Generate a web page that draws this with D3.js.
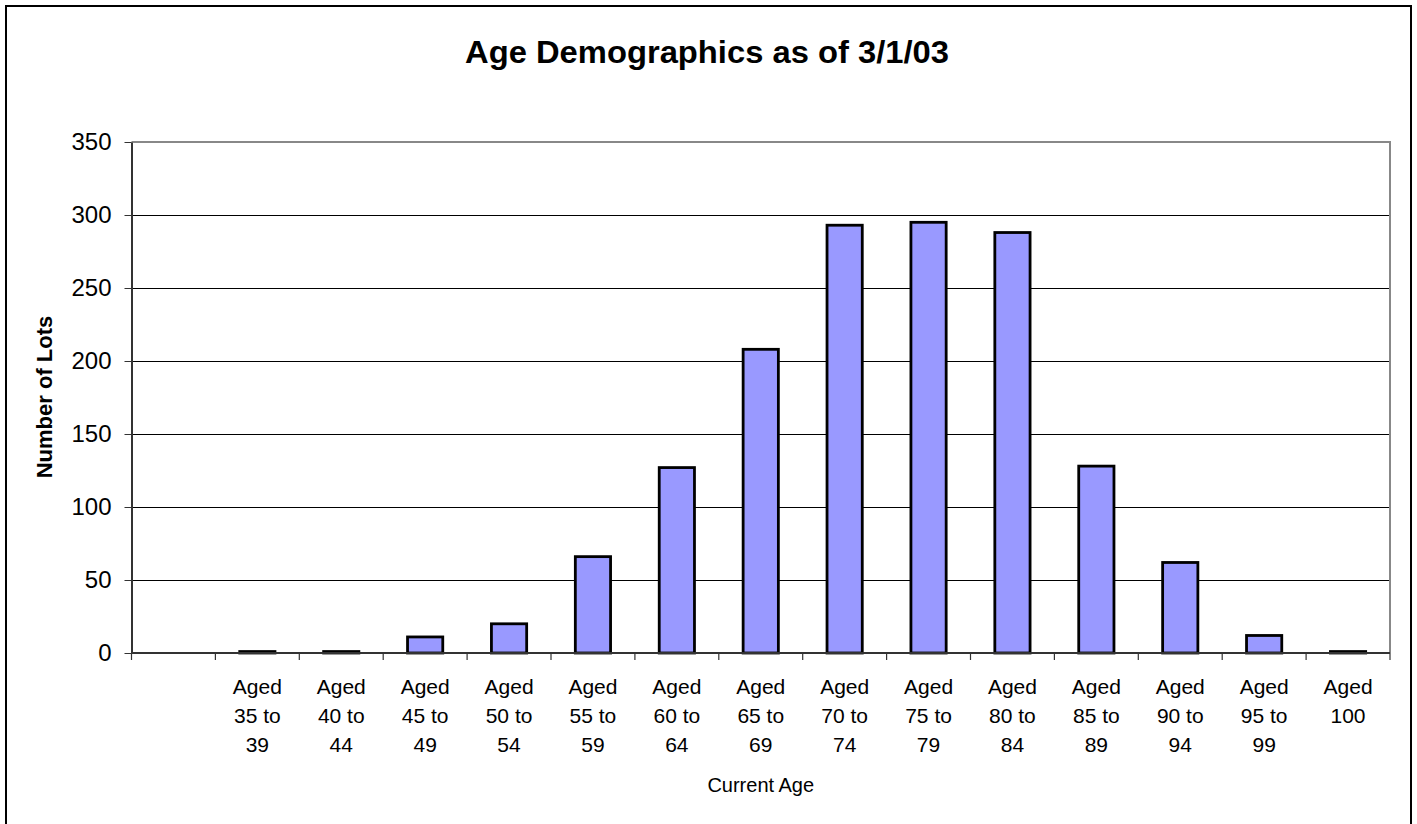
<!DOCTYPE html>
<html>
<head>
<meta charset="utf-8">
<script src="https://cdn.jsdelivr.net/npm/d3@7"></script>
<style>
  body { margin: 0; background: #fff; }
  text { font-family: Arial, "Liberation Sans", sans-serif; fill: #000; }
</style>
</head>
<body>
<svg id="chart" width="1417" height="824"></svg>
<script>
// chart data
const categories = ['', 'Aged\n35 to\n39', 'Aged\n40 to\n44', 'Aged\n45 to\n49', 'Aged\n50 to\n54',
  'Aged\n55 to\n59', 'Aged\n60 to\n64', 'Aged\n65 to\n69', 'Aged\n70 to\n74', 'Aged\n75 to\n79',
  'Aged\n80 to\n84', 'Aged\n85 to\n89', 'Aged\n90 to\n94', 'Aged\n95 to\n99', 'Aged\n100'];
const lots = [0, 1, 1, 11, 20, 66, 127, 208, 293, 295, 288, 128, 62, 12, 1];
const yTicks = [0, 50, 100, 150, 200, 250, 300, 350];

const chartTitle = 'Age Demographics as of 3/1/03',
      xTitle     = 'Current Age',
      yTitle     = 'Number of Lots';

let svg     = d3.select('#chart'),
    plotL   = 131.5,
    plotR   = 1390,
    plotT   = 142,
    plotB   = 653;

// outer frame (bottom edge runs off the picture)
svg.append('rect')
  .attr('x', 6).attr('y', 6)
  .attr('width', 1405).attr('height', 840)
  .attr('fill', 'none').attr('stroke', '#000').attr('stroke-width', 2);

let x = d3.scaleBand()
  .domain(categories)
  .range([plotL, plotR])
  .paddingInner(0.58)
  .paddingOuter(0.29);

let slot = d3.scaleLinear().domain([0, categories.length]).range([plotL, plotR]);

let y = d3.scaleLinear().domain([0, 350]).range([plotB, plotT]);

// gridlines
svg.append('g')
  .selectAll('line')
  .data(yTicks.filter(d => d > 0 && d < 350))
  .join('line')
  .attr('x1', plotL).attr('x2', plotR)
  .attr('y1', d => y(d)).attr('y2', d => y(d))
  .attr('shape-rendering', 'crispEdges')
  .attr('stroke', '#000').attr('stroke-width', 1);

// plot border top + right in grey
svg.append('path')
  .attr('d', `M${plotL},${plotT}H${plotR}V${plotB}`)
  .attr('fill', 'none').attr('stroke', '#888').attr('stroke-width', 2);

// bars
svg.append('g')
  .selectAll('rect')
  .data(lots.map((v, i) => ({ cat: categories[i], v: v })).filter(d => d.cat !== ''))
  .join('rect')
  .attr('x', d => x(d.cat))
  .attr('width', x.bandwidth())
  .attr('y', d => y(d.v))
  .attr('height', d => y(0) - y(d.v))
  .attr('fill', '#9999FF')
  .attr('stroke', '#000')
  .attr('stroke-width', 2.8);

// y axis
let yAxis = svg.append('g')
  .attr('transform', `translate(${plotL},0)`)
  .call(d3.axisLeft(y).tickValues(yTicks).tickSize(7).tickPadding(13).tickSizeOuter(0));
yAxis.attr('font-family', null).attr('font-size', null);
yAxis.select('.domain').attr('stroke', '#333').attr('stroke-width', 2);
yAxis.selectAll('.tick line').attr('stroke', '#333');
yAxis.selectAll('.tick text')
  .style('font-size', '24px');

// x axis line + boundary ticks
let xAxis = svg.append('g');
xAxis.append('line')
  .attr('x1', plotL).attr('x2', plotR)
  .attr('y1', plotB).attr('y2', plotB)
  .attr('stroke', '#333').attr('stroke-width', 2);
xAxis.selectAll('.bt')
  .data(d3.range(categories.length + 1))
  .join('line')
  .attr('class', 'bt')
  .attr('x1', d => slot(d)).attr('x2', d => slot(d))
  .attr('y1', plotB).attr('y2', plotB + 7)
  .attr('stroke', '#333').attr('stroke-width', 1.2);

// category labels, one tspan per line
xAxis.selectAll('.lbl')
  .data(categories)
  .join('text')
  .attr('class', 'lbl')
  .attr('text-anchor', 'middle')
  .style('font-size', '21px')
  .each(function (d) {
    let t = d3.select(this);
    d.split('\n').forEach((line, i) => {
      t.append('tspan')
        .attr('x', x(d) + x.bandwidth() / 2)
        .attr('y', plotB + 41 + i * 29)
        .text(line);
    });
  });

// titles
svg.append('text')
  .attr('x', 707).attr('y', 63)
  .attr('text-anchor', 'middle')
  .attr('textLength', 484).attr('lengthAdjust', 'spacingAndGlyphs')
  .style('font-size', '31px').style('font-weight', 'bold')
  .text(chartTitle);

svg.append('text')
  .attr('x', (plotL + plotR) / 2).attr('y', 792)
  .attr('text-anchor', 'middle')
  .style('font-size', '20px')
  .text(xTitle);

svg.append('text')
  .attr('transform', 'translate(52,397) rotate(-90)')
  .attr('text-anchor', 'middle')
  .style('font-size', '22px').style('font-weight', 'bold')
  .text(yTitle);
</script>
</body>
</html>
